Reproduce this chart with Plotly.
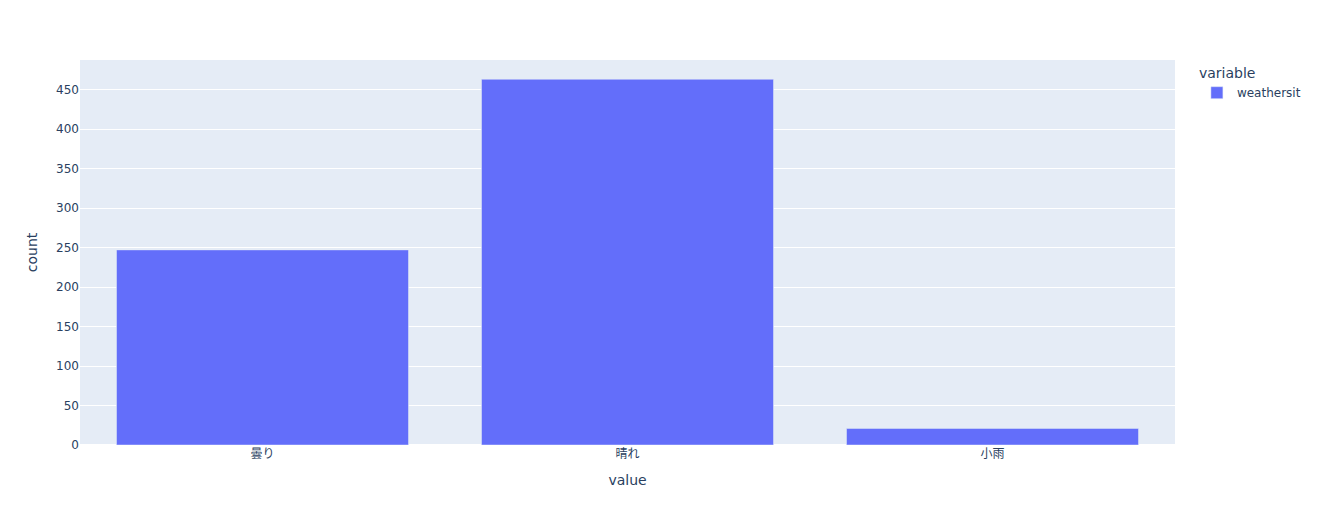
import plotly.graph_objects as go

categories = ["曇り", "晴れ", "小雨"]
counts = [247, 463, 21]
series_name = "weathersit"

fig = go.Figure()
fig.add_trace(go.Bar(
    x=categories,
    y=counts,
    name=series_name,
    marker_color="#636efa",
    showlegend=True,
    legendgroup=series_name,
))
fig.update_layout(
    template="plotly",
    width=1318,
    height=525,
    margin=dict(t=60),
    bargap=0.2,
    xaxis_title="value",
    yaxis_title="count",
    legend=dict(title=dict(text="variable"), tracegroupgap=0),
    font=dict(family="Verdana, DejaVu Sans, Noto Sans CJK JP, sans-serif"),
)
fig.write_html("out.html", config={"displayModeBar": False},
               post_script="document.body.style.margin='0';")
